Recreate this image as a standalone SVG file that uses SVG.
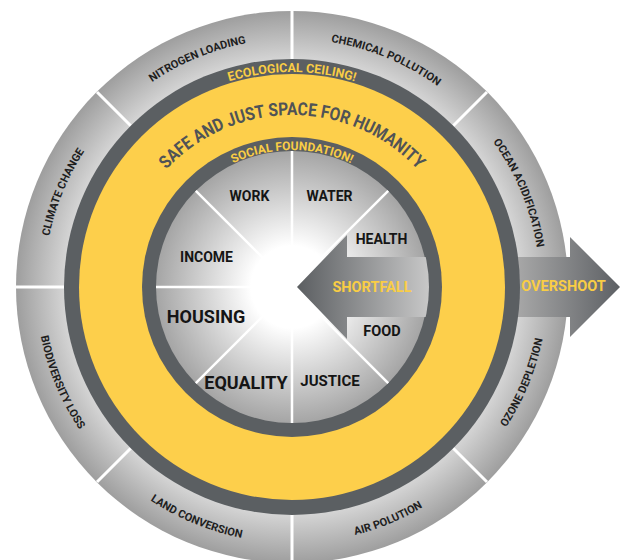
<svg xmlns="http://www.w3.org/2000/svg" xmlns:xlink="http://www.w3.org/1999/xlink" width="621" height="560" viewBox="0 0 621 560">
<style>
text{font-family:Roboto,"Liberation Sans",sans-serif}
.seg{font-size:11px;font-weight:700;fill:#1e1e1e}
.ring{font-size:12.5px;font-weight:700;fill:#f9cd45}
.safe{font-size:18px;font-weight:700;fill:#505356}
.lab{font-size:14px;font-weight:700;fill:#151515;text-anchor:middle}
.big{font-size:18px}
.yl{fill:#f9cd45}
.div{stroke:#fff;stroke-width:3}
.idiv{stroke:#fff;stroke-width:2.5}
</style>
<defs>
<radialGradient id="gOuter" gradientUnits="userSpaceOnUse" cx="292" cy="287" r="276">
<stop offset="0.82" stop-color="#d6d6d6"/>
<stop offset="1" stop-color="#9e9e9e"/>
</radialGradient>
<radialGradient id="gInner" gradientUnits="userSpaceOnUse" cx="292" cy="287" r="137">
<stop offset="0.3" stop-color="#ffffff"/>
<stop offset="1" stop-color="#a4a4a4"/>
</radialGradient>
<linearGradient id="gShort" gradientUnits="userSpaceOnUse" x1="297" y1="0" x2="432" y2="0">
<stop offset="0" stop-color="#5b5e61"/>
<stop offset="1" stop-color="#cacaca"/>
</linearGradient>
<linearGradient id="gOver" gradientUnits="userSpaceOnUse" x1="515" y1="0" x2="620" y2="0">
<stop offset="0" stop-color="#a9a9a9"/>
<stop offset="1" stop-color="#5d6064"/>
</linearGradient>
<clipPath id="cInner"><circle cx="292" cy="287" r="137"/></clipPath>
<path id="pClimate" d="M44,287 A248,248 0 0 1 116.64,111.64"/>
<path id="pNitrogen" d="M116.64,111.64 A248,248 0 0 1 292,39"/>
<path id="pChemical" d="M292,39 A248,248 0 0 1 467.36,111.64"/>
<path id="pOcean" d="M467.36,111.64 A248,248 0 0 1 540,287"/>
<path id="pOzone" d="M473.02,468.02 A256,256 0 0 0 548,287"/>
<path id="pAir" d="M292,543 A256,256 0 0 0 473.02,468.02"/>
<path id="pLand" d="M110.98,468.02 A256,256 0 0 0 292,543"/>
<path id="pBio" d="M36,287 A256,256 0 0 0 110.98,468.02"/>
<path id="pEco" d="M77,287 A215,215 0 0 1 507,287"/>
<path id="pSocial" d="M155,287 A137,137 0 0 1 429,287"/>
<path id="pSafe" d="M120,287 A172,172 0 0 1 464,287"/>
</defs>

<g id="outer-ring">
<circle cx="292" cy="287" r="276" fill="url(#gOuter)"/>
<line class="div" x1="292" y1="287" x2="292" y2="5"/>
<line class="div" x1="292" y1="287" x2="292" y2="570"/>
<line class="div" x1="292" y1="287" x2="10" y2="287"/>
<line class="div" x1="292" y1="287" x2="97" y2="92"/>
<line class="div" x1="292" y1="287" x2="487" y2="92"/>
<line class="div" x1="292" y1="287" x2="97" y2="482"/>
<line class="div" x1="292" y1="287" x2="487" y2="482"/>
</g>

<g id="overshoot">
<polygon points="500,257 570,257 570,237 620,287 570,337 570,317 500,317" fill="url(#gOver)"/>
<text class="lab yl" x="563.5" y="291" style="font-size:14.5px">OVERSHOOT</text>
</g>

<g id="ecological-ceiling">
<circle cx="292" cy="287" r="228" fill="#5b5f62"/>
</g>
<g id="safe-space">
<circle cx="292" cy="287" r="213" fill="#fdcf4b"/>
</g>
<g id="social-foundation">
<circle cx="292" cy="287" r="150" fill="#5b5f62"/>
</g>

<g id="inner-circle">
<circle cx="292" cy="287" r="136" fill="url(#gInner)"/>
<line class="idiv" x1="292" y1="151" x2="292" y2="423"/>
<line class="idiv" x1="156" y1="287" x2="292" y2="287"/>
<line class="idiv" x1="195.83" y1="190.83" x2="292" y2="287"/>
<line class="idiv" x1="195.83" y1="383.17" x2="292" y2="287"/>
<line class="idiv" x1="388.17" y1="190.83" x2="292" y2="287"/>
<line class="idiv" x1="388.17" y1="383.17" x2="292" y2="287"/>
</g>

<g id="shortfall">
<polygon clip-path="url(#cInner)" points="297,287 347,235 347,257 440,257 440,317 347,317 347,339" fill="url(#gShort)"/>
<text class="lab yl" x="372" y="292" style="font-size:14.5px">SHORTFALL</text>
</g>

<g id="social-labels">
<text class="lab" x="249.5" y="200.7">WORK</text>
<text class="lab" x="329.5" y="200.7">WATER</text>
<text class="lab" x="381.5" y="244">HEALTH</text>
<text class="lab" x="206.5" y="261.5">INCOME</text>
<text class="lab" x="382" y="336" style="font-size:14.5px">FOOD</text>
<text class="lab big" x="206" y="322.5">HOUSING</text>
<text class="lab big" x="246" y="388.5">EQUALITY</text>
<text class="lab" x="330" y="386" style="font-size:15px">JUSTICE</text>
</g>

<g id="ring-labels">
<text class="ring" text-anchor="middle"><textPath href="#pEco" xlink:href="#pEco" startOffset="50%">ECOLOGICAL CEILING!</textPath></text>
<text class="ring" text-anchor="middle" style="font-size:12px"><textPath href="#pSocial" xlink:href="#pSocial" startOffset="50%">SOCIAL FOUNDATION!</textPath></text>
<text class="safe" text-anchor="middle"><textPath href="#pSafe" xlink:href="#pSafe" startOffset="50%" textLength="282" lengthAdjust="spacingAndGlyphs">SAFE AND JUST SPACE FOR HUMANITY</textPath></text>
</g>

<g id="boundary-labels">
<text class="seg" text-anchor="middle"><textPath href="#pClimate" xlink:href="#pClimate" startOffset="50%">CLIMATE CHANGE</textPath></text>
<text class="seg" text-anchor="middle"><textPath href="#pNitrogen" xlink:href="#pNitrogen" startOffset="50%">NITROGEN LOADING</textPath></text>
<text class="seg" text-anchor="middle"><textPath href="#pChemical" xlink:href="#pChemical" startOffset="50%">CHEMICAL POLLUTION</textPath></text>
<text class="seg" text-anchor="middle"><textPath href="#pOcean" xlink:href="#pOcean" startOffset="50%">OCEAN ACIDIFICATION</textPath></text>
<text class="seg" text-anchor="middle"><textPath href="#pOzone" xlink:href="#pOzone" startOffset="50%">OZONE DEPLETION</textPath></text>
<text class="seg" text-anchor="middle"><textPath href="#pAir" xlink:href="#pAir" startOffset="50%">AIR POLUTION</textPath></text>
<text class="seg" text-anchor="middle"><textPath href="#pLand" xlink:href="#pLand" startOffset="50%">LAND CONVERSION</textPath></text>
<text class="seg" text-anchor="middle"><textPath href="#pBio" xlink:href="#pBio" startOffset="50%">BIODIVERSITY LOSS</textPath></text>
</g>
</svg>
